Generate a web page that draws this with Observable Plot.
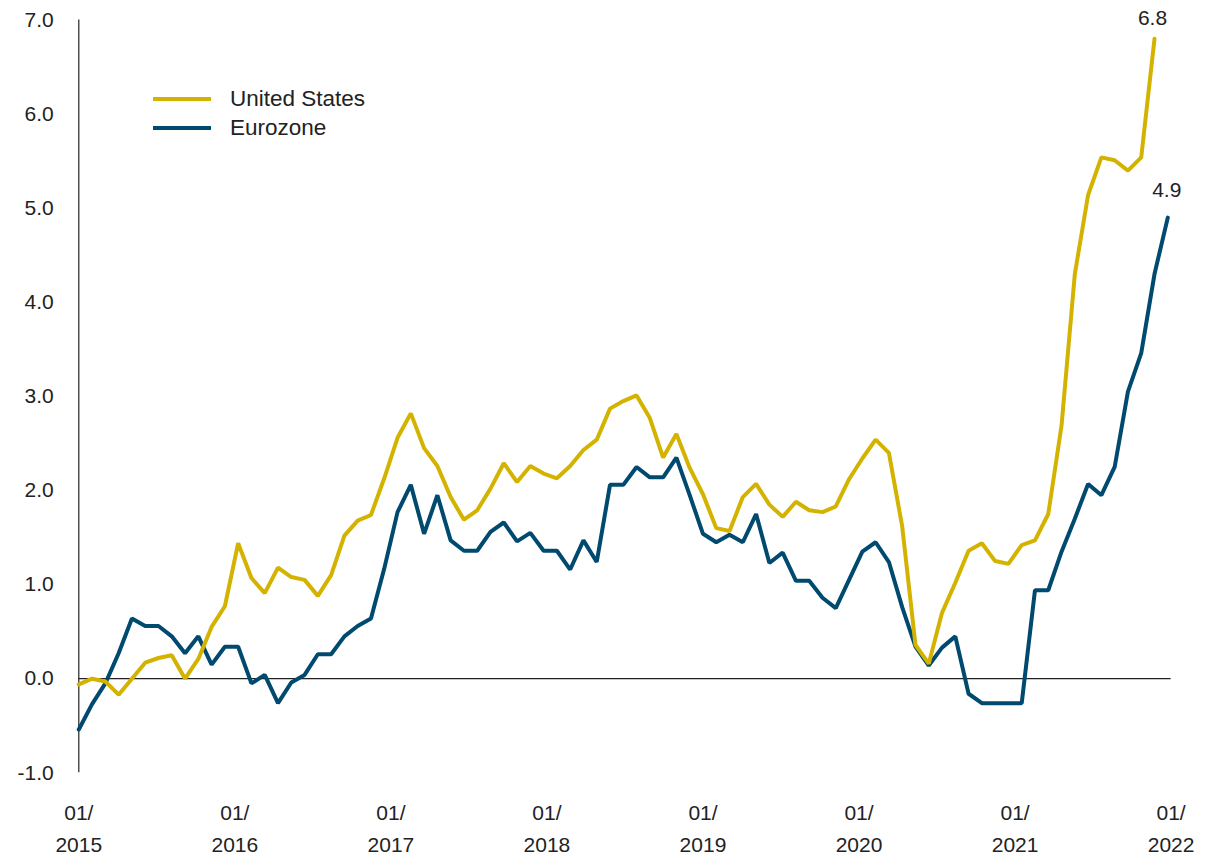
<!DOCTYPE html>
<html>
<head>
<meta charset="utf-8">
<script src="https://cdn.jsdelivr.net/npm/d3@7"></script>
<script src="https://cdn.jsdelivr.net/npm/@observablehq/plot@0.6"></script>
<style>
  html, body { margin: 0; padding: 0; background: #fff; }
  #wrap { position: relative; width: 1215px; height: 856px; font-family: "Liberation Sans", Arial, sans-serif; color: #222; }
  #legend { position: absolute; left: 153px; top: 85px; font-size: 22.5px; line-height: 28.5px; }
  #legend .row { display: flex; align-items: center; }
  #legend .sw { width: 58px; height: 4px; margin-right: 19px; }
</style>
</head>
<body>
<div id="wrap">
  <div id="chart"></div>
  <div id="legend"></div>
</div>
<script>
// Year-over-year inflation, %, one value per period (index 0 = January 2015)
const unitedStates = [
  -0.06, 0.0, -0.03, -0.17, 0.0, 0.17, 0.22, 0.25, 0.0, 0.21, 0.55, 0.77,
  1.44, 1.07, 0.91, 1.18, 1.08, 1.05, 0.88, 1.10, 1.52, 1.68, 1.74, 2.13,
  2.56, 2.82, 2.45, 2.26, 1.93, 1.69, 1.79, 2.02, 2.29, 2.09, 2.26, 2.18,
  2.13, 2.26, 2.43, 2.54, 2.87, 2.95, 3.01, 2.77, 2.35, 2.60, 2.24, 1.96,
  1.60, 1.57, 1.93, 2.07, 1.85, 1.72, 1.88, 1.79, 1.77, 1.83, 2.12, 2.34,
  2.54, 2.40, 1.62, 0.36, 0.16, 0.70, 1.02, 1.36, 1.44, 1.25, 1.22, 1.42,
  1.47, 1.75, 2.69, 4.30, 5.14, 5.54, 5.51, 5.40, 5.54, 6.8
];
const eurozone = [
  -0.54, -0.27, -0.05, 0.27, 0.64, 0.56, 0.56, 0.45, 0.27, 0.45, 0.15, 0.34,
  0.34, -0.05, 0.04, -0.26, -0.04, 0.04, 0.26, 0.26, 0.45, 0.56, 0.64, 1.17,
  1.77, 2.06, 1.54, 1.95, 1.47, 1.36, 1.36, 1.56, 1.66, 1.46, 1.55, 1.36,
  1.36, 1.16, 1.47, 1.24, 2.06, 2.06, 2.25, 2.14, 2.14, 2.35, 1.95, 1.54,
  1.45, 1.53, 1.45, 1.75, 1.23, 1.34, 1.04, 1.04, 0.86, 0.75, 1.05, 1.35,
  1.45, 1.24, 0.76, 0.34, 0.14, 0.33, 0.45, -0.16, -0.26, -0.26, -0.26, -0.26,
  0.94, 0.94, 1.35, 1.70, 2.07, 1.95, 2.25, 3.05, 3.46, 4.3, 4.9
];
const seriesNames = ["United States", "Eurozone"];
const seriesColors = ["#D4B300", "#00496F"];

// Axis ticks
const yTicks = [-1, 0, 1, 2, 3, 4, 5, 6, 7];
const xTickAt = [0, 11.75, 23.5, 35.25, 47, 58.75, 70.5, 82.25];
const xTickLabels = ["01/\n2015", "01/\n2016", "01/\n2017", "01/\n2018", "01/\n2019", "01/\n2020", "01/\n2021", "01/\n2022"];

const us = unitedStates.map((v, i) => ({i, v}));
const eu = eurozone.map((v, i) => ({i, v}));

const chart = Plot.plot({
  width: 1215,
  height: 856,
  marginLeft: 78.3,
  marginRight: 44.4,
  marginTop: 19.5,
  marginBottom: 83.7,
  x: {domain: [0, 82.25]},
  y: {domain: [-1, 7]},
  style: {fontFamily: "'Liberation Sans', Arial, sans-serif", color: "#222", background: "#fff", overflow: "visible"},
  marks: [
    Plot.axisY({ticks: yTicks, tickFormat: d => d.toFixed(1), tickSize: 0, tickPadding: 25, fontSize: 21, label: null}),
    Plot.axisX({ticks: xTickAt, tickFormat: d => xTickLabels[xTickAt.indexOf(d)], tickSize: 0, tickPadding: 25, fontSize: 21, lineHeight: 1.52, label: null}),
    Plot.ruleX([0], {stroke: "#222", strokeWidth: 1.2}),
    Plot.ruleY([0], {stroke: "#222", strokeWidth: 1.2}),
    Plot.line(eu, {x: "i", y: "v", stroke: seriesColors[1], strokeWidth: 4, strokeLinejoin: "miter"}),
    Plot.line(us, {x: "i", y: "v", stroke: seriesColors[0], strokeWidth: 4, strokeLinejoin: "miter"}),
    Plot.text([us[us.length - 1]], {x: "i", y: "v", text: d => d.v.toFixed(1), dy: -21, dx: -2, fontSize: 21, fill: "#222"}),
    Plot.text([eu[eu.length - 1]], {x: "i", y: "v", text: d => d.v.toFixed(1), dy: -27, dx: -1, fontSize: 21, fill: "#222"})
  ]
});
document.getElementById("chart").append(chart);

// Legend
const legend = document.getElementById("legend");
seriesNames.forEach((name, k) => {
  const row = document.createElement("div");
  row.className = "row";
  const sw = document.createElement("span");
  sw.className = "sw";
  sw.style.background = seriesColors[k];
  const label = document.createElement("span");
  label.textContent = name;
  row.append(sw, label);
  legend.append(row);
});
</script>
</body>
</html>
